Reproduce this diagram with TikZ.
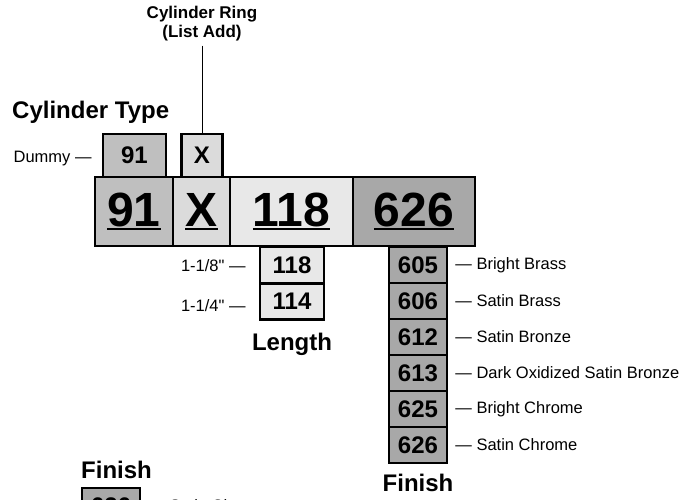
\documentclass[tikz,border=0pt]{standalone}
\usepackage{fontspec}
\setmainfont{Liberation Sans}
\usetikzlibrary{positioning}
\definecolor{finishgray}{gray}{0.66}
\definecolor{typegray}{gray}{0.75}
\definecolor{ringgray}{gray}{0.86}
\definecolor{lengthgray}{gray}{0.91}
\newcommand{\numline}[1]{\setbox0\hbox{#1}\rlap{\rule[-4pt]{\wd0}{2pt}}\box0}
\begin{document}
\begin{tikzpicture}[x=1pt,y=-1pt,line join=miter,
  bigbox/.style={draw,line width=2.5pt,inner sep=0pt,minimum height=69pt,font=\fontsize{48}{50}\selectfont\bfseries},
  smallbox/.style={draw,line width=2.5pt,inner sep=0pt,minimum height=36pt,font=\fontsize{24}{26}\selectfont\bfseries},
  note/.style={inner sep=1pt,font=\fontsize{16.5}{18}\selectfont},
  heading/.style={inner sep=0pt,font=\fontsize{24}{26}\selectfont\bfseries}]
  \clip (0,0) rectangle (693,500);
  \node[bigbox,fill=typegray,minimum width=78pt] (big91) at (134,211.5) {\numline{91}};
  \node[bigbox,fill=ringgray,minimum width=57pt] (bigX) at (201.5,211.5) {\numline{X}};
  \node[bigbox,fill=lengthgray,minimum width=123pt] (big118) at (291.5,211.5) {\numline{118}};
  \node[bigbox,fill=finishgray,minimum width=122pt] (big626) at (414,211.5) {\numline{626}};
  \node[smallbox,fill=typegray,minimum width=63pt,minimum height=43pt] (top91) at (134.5,155.5) {91};
  \node[smallbox,fill=ringgray,minimum width=41pt,minimum height=43pt] (topX) at (202,155.5) {X};
  \node[heading,anchor=base west] (typehead) at (12,118) {Cylinder Type};
  \node[note,left=9pt of top91,yshift=-3pt] (dummy) {Dummy ---};
  \node[inner sep=0pt,align=center,font=\fontsize{17}{19}\selectfont\bfseries] (ring) at (202,24) {Cylinder Ring\\(List Add)};
  \draw[line width=1pt,shorten <=4pt] (ring.south) -- (topX.north);
  \node[smallbox,fill=lengthgray,minimum width=64pt] (len118) at (292,265) {118};
  \node[smallbox,fill=lengthgray,minimum width=64pt] (len114) at (292,301.5) {114};
  \node[note,left=12pt of len118,yshift=-1pt] (inch118) {1-1/8\textquotedbl{} ---};
  \node[note,left=12pt of len114,yshift=-4pt] (inch114) {1-1/4\textquotedbl{} ---};
  \node[heading,anchor=base] (lenhead) at (292,350) {Length};
  \foreach \code/\name [count=\i from 0] in {605/Bright Brass,606/Satin Brass,612/Satin Bronze,613/Dark Oxidized Satin Bronze,625/Bright Chrome,626/Satin Chrome} {
    \node[smallbox,fill=finishgray,minimum width=58pt] (fin\code) at (418,{265+36*\i}) {\code};
    \node[note,right=6pt of fin\code] (lbl\code) {--- \name};
  }
  \node[heading,anchor=base] (finhead) at (418,491) {Finish};
  \node[heading,anchor=base west] (lefthead) at (81,478) {Finish};
  \node[smallbox,fill=finishgray,minimum width=58pt] (left626) at (111,506) {626};
  \node[note,right=6pt of left626] (leftlbl) {--- Satin Chrome};
\end{tikzpicture}
\end{document}
